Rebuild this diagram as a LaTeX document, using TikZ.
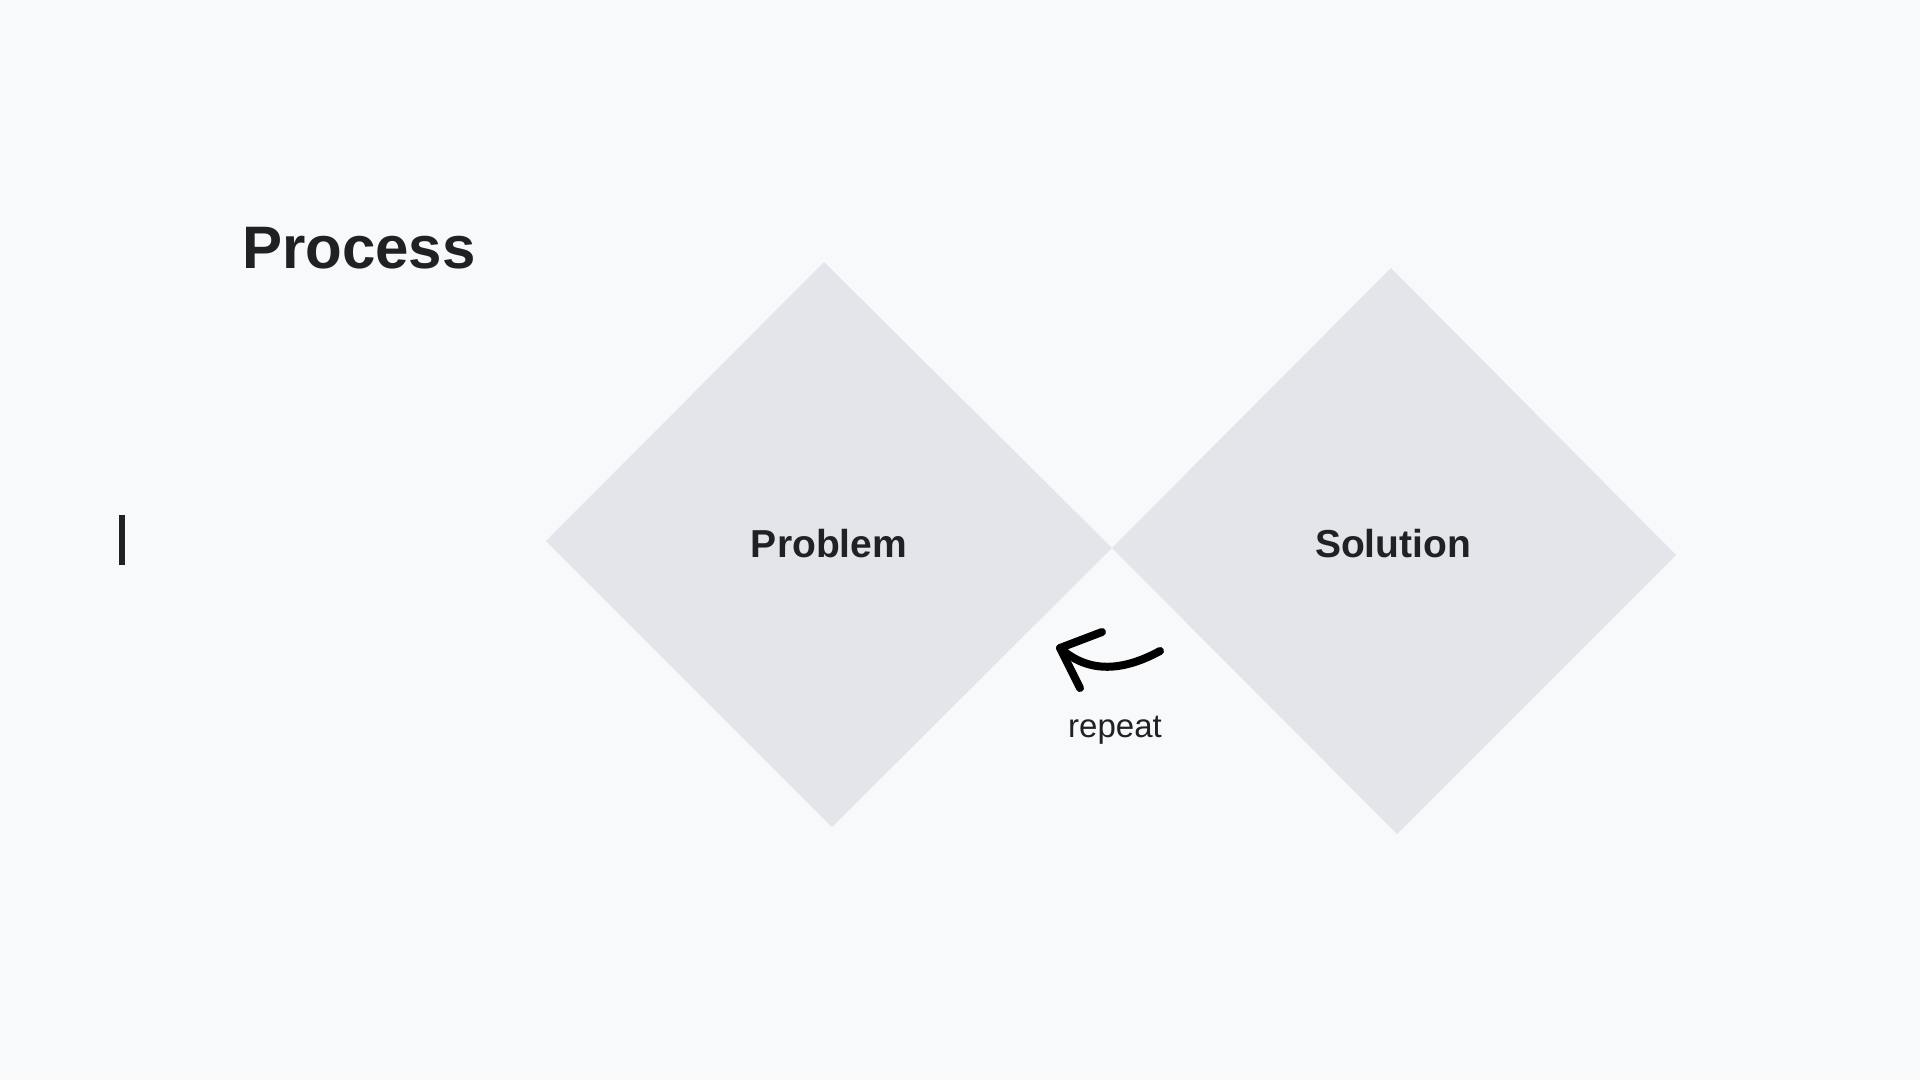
\documentclass[tikz,border=0pt]{standalone}
\usepackage{fontspec}
\setmainfont{Liberation Sans}
\definecolor{bg}{HTML}{F8F9FA}
\definecolor{dia}{HTML}{E3E5EA}
\definecolor{ink}{HTML}{1F2125}
\begin{document}
\begin{tikzpicture}[x=1pt,y=-1pt,
  diamondfill/.style={fill=dia,draw=none},
  lbl/.style={text=ink,font=\bfseries\fontsize{39}{46}\selectfont,inner sep=0pt},
  stroke/.style={draw=black,line width=8pt,line cap=round,line join=round}]
\fill[bg] (0,0) rectangle (1920,1080);
\useasboundingbox (0,0) rectangle (1920,1080);
% diamonds
\fill[diamondfill] (824,262) -- (1112,548) -- (832,827) -- (546,541) -- cycle;
\fill[diamondfill] (1391,268) -- (1676,555) -- (1397,834) -- (1112,548) -- cycle;
% title
\node[anchor=base west,inner sep=0pt,text=ink,font=\bfseries\fontsize{60}{72}\selectfont] (title) at (242,268) {Process};
% cursor
\fill[ink] (119,515) rectangle (125,565);
% labels
\node[lbl,anchor=base] (problem) at (829,557) {Problem};
\node[lbl,anchor=base] (solution) at (1393,557) {Solution};
% arrow
\coordinate (astart) at (1160,651);
\coordinate (atip) at (1060,648);
\coordinate (bup) at (1102,632);
\coordinate (bdown) at (1080,688);
\draw[stroke] (astart) .. controls (1125,670) and (1090,675) .. (atip);
\draw[stroke] (bup) -- (atip) -- (bdown);
\node[anchor=base,inner sep=0pt,text=ink,font=\fontsize{33}{40}\selectfont] (repeat) at (1115,737) {repeat};
\end{tikzpicture}
\end{document}
